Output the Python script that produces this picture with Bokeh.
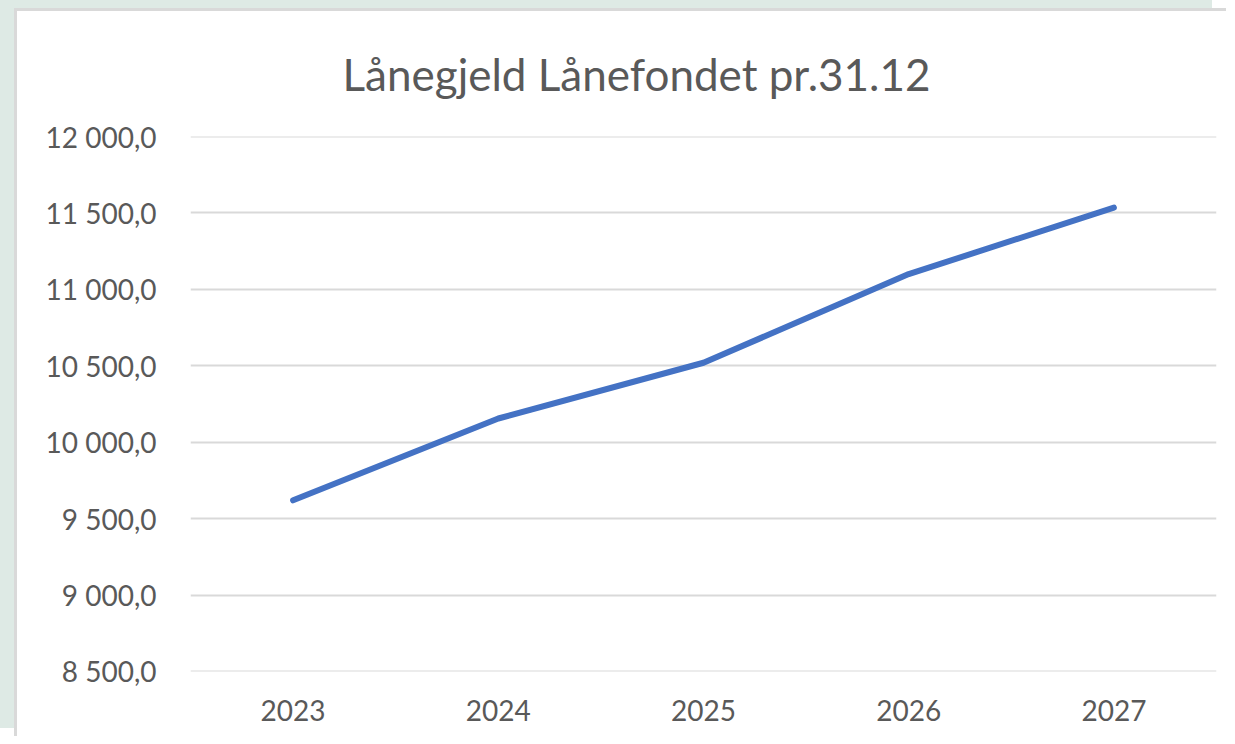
from bokeh.plotting import figure
from bokeh.models import Range1d, FactorRange, FixedTicker, CustomJSTickFormatter, Title
from bokeh.embed import file_html
from bokeh.resources import INLINE

# ---- data ----
years = ["2023", "2024", "2025", "2026", "2027"]
debt = [9620, 10155, 10520, 11100, 11535]
y_ticks = [8500, 9000, 9500, 10000, 10500, 11000, 11500, 12000]
title_text = "Lånegjeld Lånefondet pr.31.12"

TEXT = "#595959"
FONT = "Lato"

p = figure(
    width=1212, height=728,
    x_range=FactorRange(factors=years, range_padding=0),
    y_range=Range1d(8499.5, 12000.5),
    output_backend="svg", toolbar_location=None,
    min_border_left=173, min_border_right=13,
    min_border_top=125, min_border_bottom=68,
)
p.background_fill_color = "white"
p.border_fill_color = "white"
p.outline_line_color = None
p.styles = {
    "margin-left": "17px", "margin-top": "11px",
    "background-color": "white",
    "box-shadow": "-3px -3px 0 0 #D9D9D9, -17px -11px 0 0 #DEEAE5",
}

t = Title(text=title_text, align="left", offset=152, vertical_align="top",
          text_font=FONT, text_font_size="44px", text_font_style="normal",
          text_color=TEXT, standoff=70)
p.add_layout(t, "above")

p.line(years, debt, line_color="#4472C4", line_width=6,
       line_cap="round", line_join="round")

# axes
for ax in (p.xaxis, p.yaxis):
    ax.axis_line_color = None
    ax.major_tick_line_color = None
    ax.minor_tick_line_color = None
    ax.major_tick_out = 0
    ax.major_tick_in = 0
    ax.major_label_text_font = FONT
    ax.major_label_text_font_size = "28px"
    ax.major_label_text_color = TEXT

p.xaxis.major_label_standoff = 28
p.yaxis.major_label_standoff = 34
p.yaxis.ticker = FixedTicker(ticks=y_ticks)
p.yaxis.formatter = CustomJSTickFormatter(code="""
const s = tick.toFixed(1).split('.');
const ip = s[0].replace(/\\B(?=(\\d{3})+(?!\\d))/g, ' ');
return ip + ',' + s[1];
""")

p.xgrid.grid_line_color = None
p.ygrid.grid_line_color = "#D9D9D9"
p.ygrid.grid_line_width = 2
p.ygrid.ticker = FixedTicker(ticks=y_ticks)

open("out.html", "w").write(file_html(p, INLINE))
